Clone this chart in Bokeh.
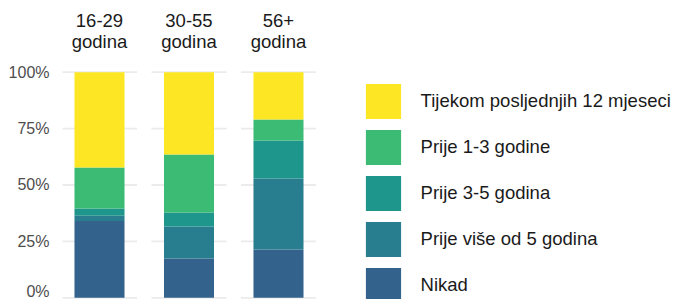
from bokeh.plotting import figure
from bokeh.models import Range1d, FixedTicker, Legend, LegendItem, ColumnDataSource
from bokeh.core.properties import value
from bokeh.embed import file_html
from bokeh.resources import INLINE

# ---- data ----
categories = ["16-29\ngodina", "30-55\ngodina", "56+\ngodina"]
series = ["Nikad", "Prije više od 5 godina", "Prije 3-5 godina",
          "Prije 1-3 godine", "Tijekom posljednjih 12 mjeseci"]
nikad = [34.0, 17.4, 21.4]
vise_od_5 = [2.4, 14.2, 31.5]
prije_3_5 = [3.2, 6.2, 16.8]
prije_1_3 = [18.2, 25.7, 9.3]
zadnjih_12 = [42.2, 36.5, 21.0]
colors = ["#33638D", "#287D8E", "#1F968B", "#3CBB75", "#FDE725"]
y_ticks = [0, 25, 50, 75, 100]
y_tick_labels = ["0%", "25%", "50%", "75%", "100%"]

FONT = "Liberation Sans"
pos = list(range(len(categories)))

src = ColumnDataSource(dict(x=pos, cat=categories,
                            s0=nikad, s1=vise_od_5, s2=prije_3_5,
                            s3=prije_1_3, s4=zadnjih_12))

p = figure(width=675, height=299, output_backend="svg", toolbar_location=None,
           x_axis_location=None,
           x_range=Range1d(-0.4134, 6.436), y_range=Range1d(-0.754, 131.78),
           min_border_left=62, min_border_right=0, min_border_top=0,
           min_border_bottom=0)
p.outline_line_color = None
p.xgrid.grid_line_color = None
p.ygrid.grid_line_color = None

# per-panel grid lines
half_panel = 0.4195
gx0, gx1, gy = [], [], []
for c in pos:
    for t in y_ticks:
        gx0.append(c - half_panel)
        gx1.append(c + half_panel)
        gy.append(t)
p.segment(x0=gx0, x1=gx1, y0=gy, y1=gy, line_color="#EBEBEB", line_width=1.8)

renderers = p.vbar_stack(["s0", "s1", "s2", "s3", "s4"], x="x", width=0.559,
                         color=colors, line_color=None, source=src)

# strip titles
p.text(x="x", y=118.3, text="cat", source=src, text_align="center",
       text_baseline="middle", text_font=value(FONT), text_font_size="18.5px",
       text_color="#1A1A1A", text_line_height=1.0)

ax = p.yaxis[0]
ax.ticker = FixedTicker(ticks=y_ticks)
ax.major_label_overrides = {t: l for t, l in zip(y_ticks, y_tick_labels)}
ax.axis_line_color = None
ax.major_tick_line_color = None
ax.minor_tick_line_color = None
ax.major_tick_out = 0
ax.major_tick_in = 0
ax.major_label_standoff = 13
ax.major_label_text_font = FONT
ax.major_label_text_font_size = "16px"
ax.major_label_text_color = "#4D4D4D"

items = [LegendItem(label=series[i], renderers=[renderers[i]]) for i in reversed(range(len(series)))]
legend = Legend(items=items, location=(298.6, -7.6), orientation="vertical",
                glyph_width=44, glyph_height=44, spacing=2, padding=0, margin=0,
                label_standoff=16, label_text_font=FONT, label_text_font_size="18.5px",
                label_text_color="#1A1A1A", border_line_color=None,
                background_fill_alpha=0)
p.add_layout(legend)

open("out.html", "w").write(file_html(p, INLINE))
